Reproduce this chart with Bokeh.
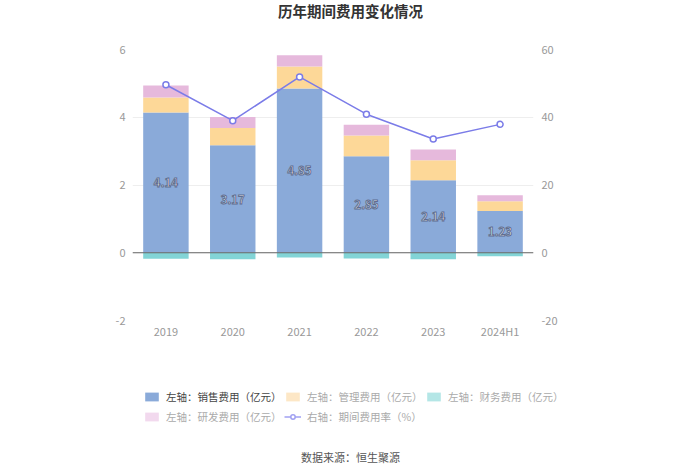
import numpy as np
from bokeh.plotting import figure
from bokeh.layouts import column
from bokeh.models import (Range1d, LinearAxis, FactorRange, Span, Label, Legend,
                          LegendItem, ColumnDataSource, FixedTicker)
from bokeh.core.properties import value
from bokeh.embed import file_html
from bokeh.resources import INLINE

categories = ["2019", "2020", "2021", "2022", "2023", "2024H1"]
sales = [4.14, 3.17, 4.85, 2.85, 2.14, 1.23]
admin = [0.44, 0.51, 0.65, 0.61, 0.59, 0.29]
finance = [-0.18, -0.19, -0.14, -0.17, -0.19, -0.10]
rnd = [0.36, 0.33, 0.33, 0.32, 0.32, 0.18]
rate = [49.6, 39.0, 51.9, 40.9, 33.6, 37.9]
left_ticks = [-2, 0, 2, 4, 6]
right_ticks = [-20, 0, 20, 40, 60]

FONT = "Noto Sans CJK SC"
C_SALES = "#8aaad9"
C_ADMIN = "#fdd898"
C_FIN = "#82d4d6"
C_RND = "#e6b9dc"
C_LINE = "#7b7ce8"
WIDTH = 700


def strip(height, y_top, y_bottom):
    f = figure(width=WIDTH, height=height, x_range=Range1d(0, WIDTH),
               y_range=Range1d(y_bottom, y_top), output_backend="svg",
               toolbar_location=None, title=None, x_axis_location=None,
               y_axis_location=None, min_border=0)
    f.min_border_left = f.min_border_right = f.min_border_top = f.min_border_bottom = 0
    f.outline_line_color = None
    f.grid.visible = False
    f.frame_align = False
    return f


# ---------- title strip (data y == page y) ----------
pt = strip(30, 0, 30)
pt.add_layout(Label(x=350, y=10, text="历年期间费用变化情况", text_align="center",
                    text_baseline="middle", text_font=FONT, text_font_size="14.5px",
                    text_font_style="bold", text_color="#333333"))

# ---------- main chart ----------
s = np.array(sales)
a = np.array(admin)
r = np.array(rnd)
src = ColumnDataSource(dict(
    cat=categories,
    sales_top=s, admin_top=s + a, rnd_top=s + a + r,
    fin=finance, zero=[0] * len(categories), rate=rate,
    lab_y=s / 2, lab=[f"{v:.2f}" for v in sales],
))

p = figure(width=WIDTH, height=320, x_range=FactorRange(factors=categories),
           y_range=Range1d(left_ticks[0], left_ticks[-1]),
           output_backend="svg", toolbar_location=None, title=None,
           min_border_left=132, min_border_right=167,
           min_border_top=19, min_border_bottom=30)
p.frame_align = False
p.outline_line_color = None
p.extra_y_ranges = {"right": Range1d(right_ticks[0], right_ticks[-1])}

W = 0.68
p.vbar(x="cat", bottom="zero", top="sales_top", width=W, source=src,
       fill_color=C_SALES, line_color=None)
p.vbar(x="cat", bottom="sales_top", top="admin_top", width=W, source=src,
       fill_color=C_ADMIN, line_color=None)
p.vbar(x="cat", bottom="admin_top", top="rnd_top", width=W, source=src,
       fill_color=C_RND, line_color=None)
p.vbar(x="cat", bottom="fin", top="zero", width=W, source=src,
       fill_color=C_FIN, line_color=None)

p.add_layout(Span(location=0, dimension="width", line_color="#666666", line_width=1))

p.line(x="cat", y="rate", source=src, y_range_name="right",
       line_color=C_LINE, line_width=1.5)
p.scatter(x="cat", y="rate", source=src, y_range_name="right", size=6,
          fill_color="white", line_color=C_LINE, line_width=1.5)

p.text(x="cat", y="lab_y", text="lab", source=src, text_color="white",
       text_font=value(FONT), text_font_size="11.5px", text_align="center",
       text_baseline="middle", text_outline_color="#5f6d8f", text_font_style="bold")

p.yaxis.ticker = FixedTicker(ticks=left_ticks)
ra = LinearAxis(y_range_name="right", ticker=FixedTicker(ticks=right_ticks))
p.add_layout(ra, "right")
for ax in [p.yaxis[0], ra, p.xaxis[0]]:
    ax.axis_line_color = None
    ax.major_tick_line_color = None
    ax.minor_tick_line_color = None
    ax.major_tick_out = 0
    ax.major_tick_in = 0
    ax.minor_tick_out = 0
    ax.minor_tick_in = 0
    ax.major_label_text_color = "#999999"
    ax.major_label_text_font = FONT
    ax.major_label_text_font_size = "11px"
p.yaxis[0].major_label_overrides = {t: str(t) for t in left_ticks}
ra.major_label_overrides = {t: str(t) for t in right_ticks}
p.yaxis[0].major_label_standoff = 7
ra.major_label_standoff = 8
p.xaxis[0].major_label_standoff = 2
p.xgrid.grid_line_color = None
p.ygrid.grid_line_color = "#eeeeee"

# ---------- legend + source strip (data y == page y) ----------
pl = strip(124, 350, 474)
idx = list(range(len(categories)))
d_sales = pl.vbar(x=idx, top=sales, width=1, fill_color=C_SALES, line_color=None,
                  visible=False)
d_admin = pl.vbar(x=idx, top=admin, width=1, fill_color="#fde7c6", line_color=None,
                  visible=False)
d_fin = pl.vbar(x=idx, top=finance, width=1, fill_color="#b4e6e6", line_color=None,
                visible=False)
d_rnd = pl.vbar(x=idx, top=rnd, width=1, fill_color="#f2d9ee", line_color=None,
                visible=False)
d_line = pl.line(x=idx, y=rate, line_color="#a0a0f2", line_width=1.5, visible=False)
d_pt = pl.scatter(x=idx, y=rate, size=8, fill_color="white", line_color="#a0a0f2",
                  line_width=1.5, visible=False)


def add_legend(label, renderers, x, y, color):
    lg = Legend(items=[LegendItem(label=label, renderers=renderers)], location=(x, y),
                orientation="horizontal", padding=0, margin=0, spacing=0,
                glyph_width=17, glyph_height=11, label_standoff=6, label_height=11,
                label_text_font=FONT, label_text_font_size="10.5px",
                label_text_color=color, border_line_color=None,
                background_fill_alpha=0)
    pl.add_layout(lg)


add_legend("左轴：销售费用（亿元）", [d_sales], 143, 70, "#444444")
add_legend("左轴：管理费用（亿元）", [d_admin], 284, 70, "#aaaaaa")
add_legend("左轴：财务费用（亿元）", [d_fin], 425, 70, "#aaaaaa")
add_legend("左轴：研发费用（亿元）", [d_rnd], 143, 50, "#aaaaaa")
add_legend("右轴：期间费用率（%）", [d_line, d_pt], 284, 50, "#aaaaaa")

pl.add_layout(Label(x=350, y=456, text="数据来源：恒生聚源", text_align="center",
                    text_baseline="middle", text_font=FONT, text_font_size="11px",
                    text_color="#555555"))

layout = column(pt, p, pl, spacing=0)
open("out.html", "w").write(file_html(layout, INLINE))
